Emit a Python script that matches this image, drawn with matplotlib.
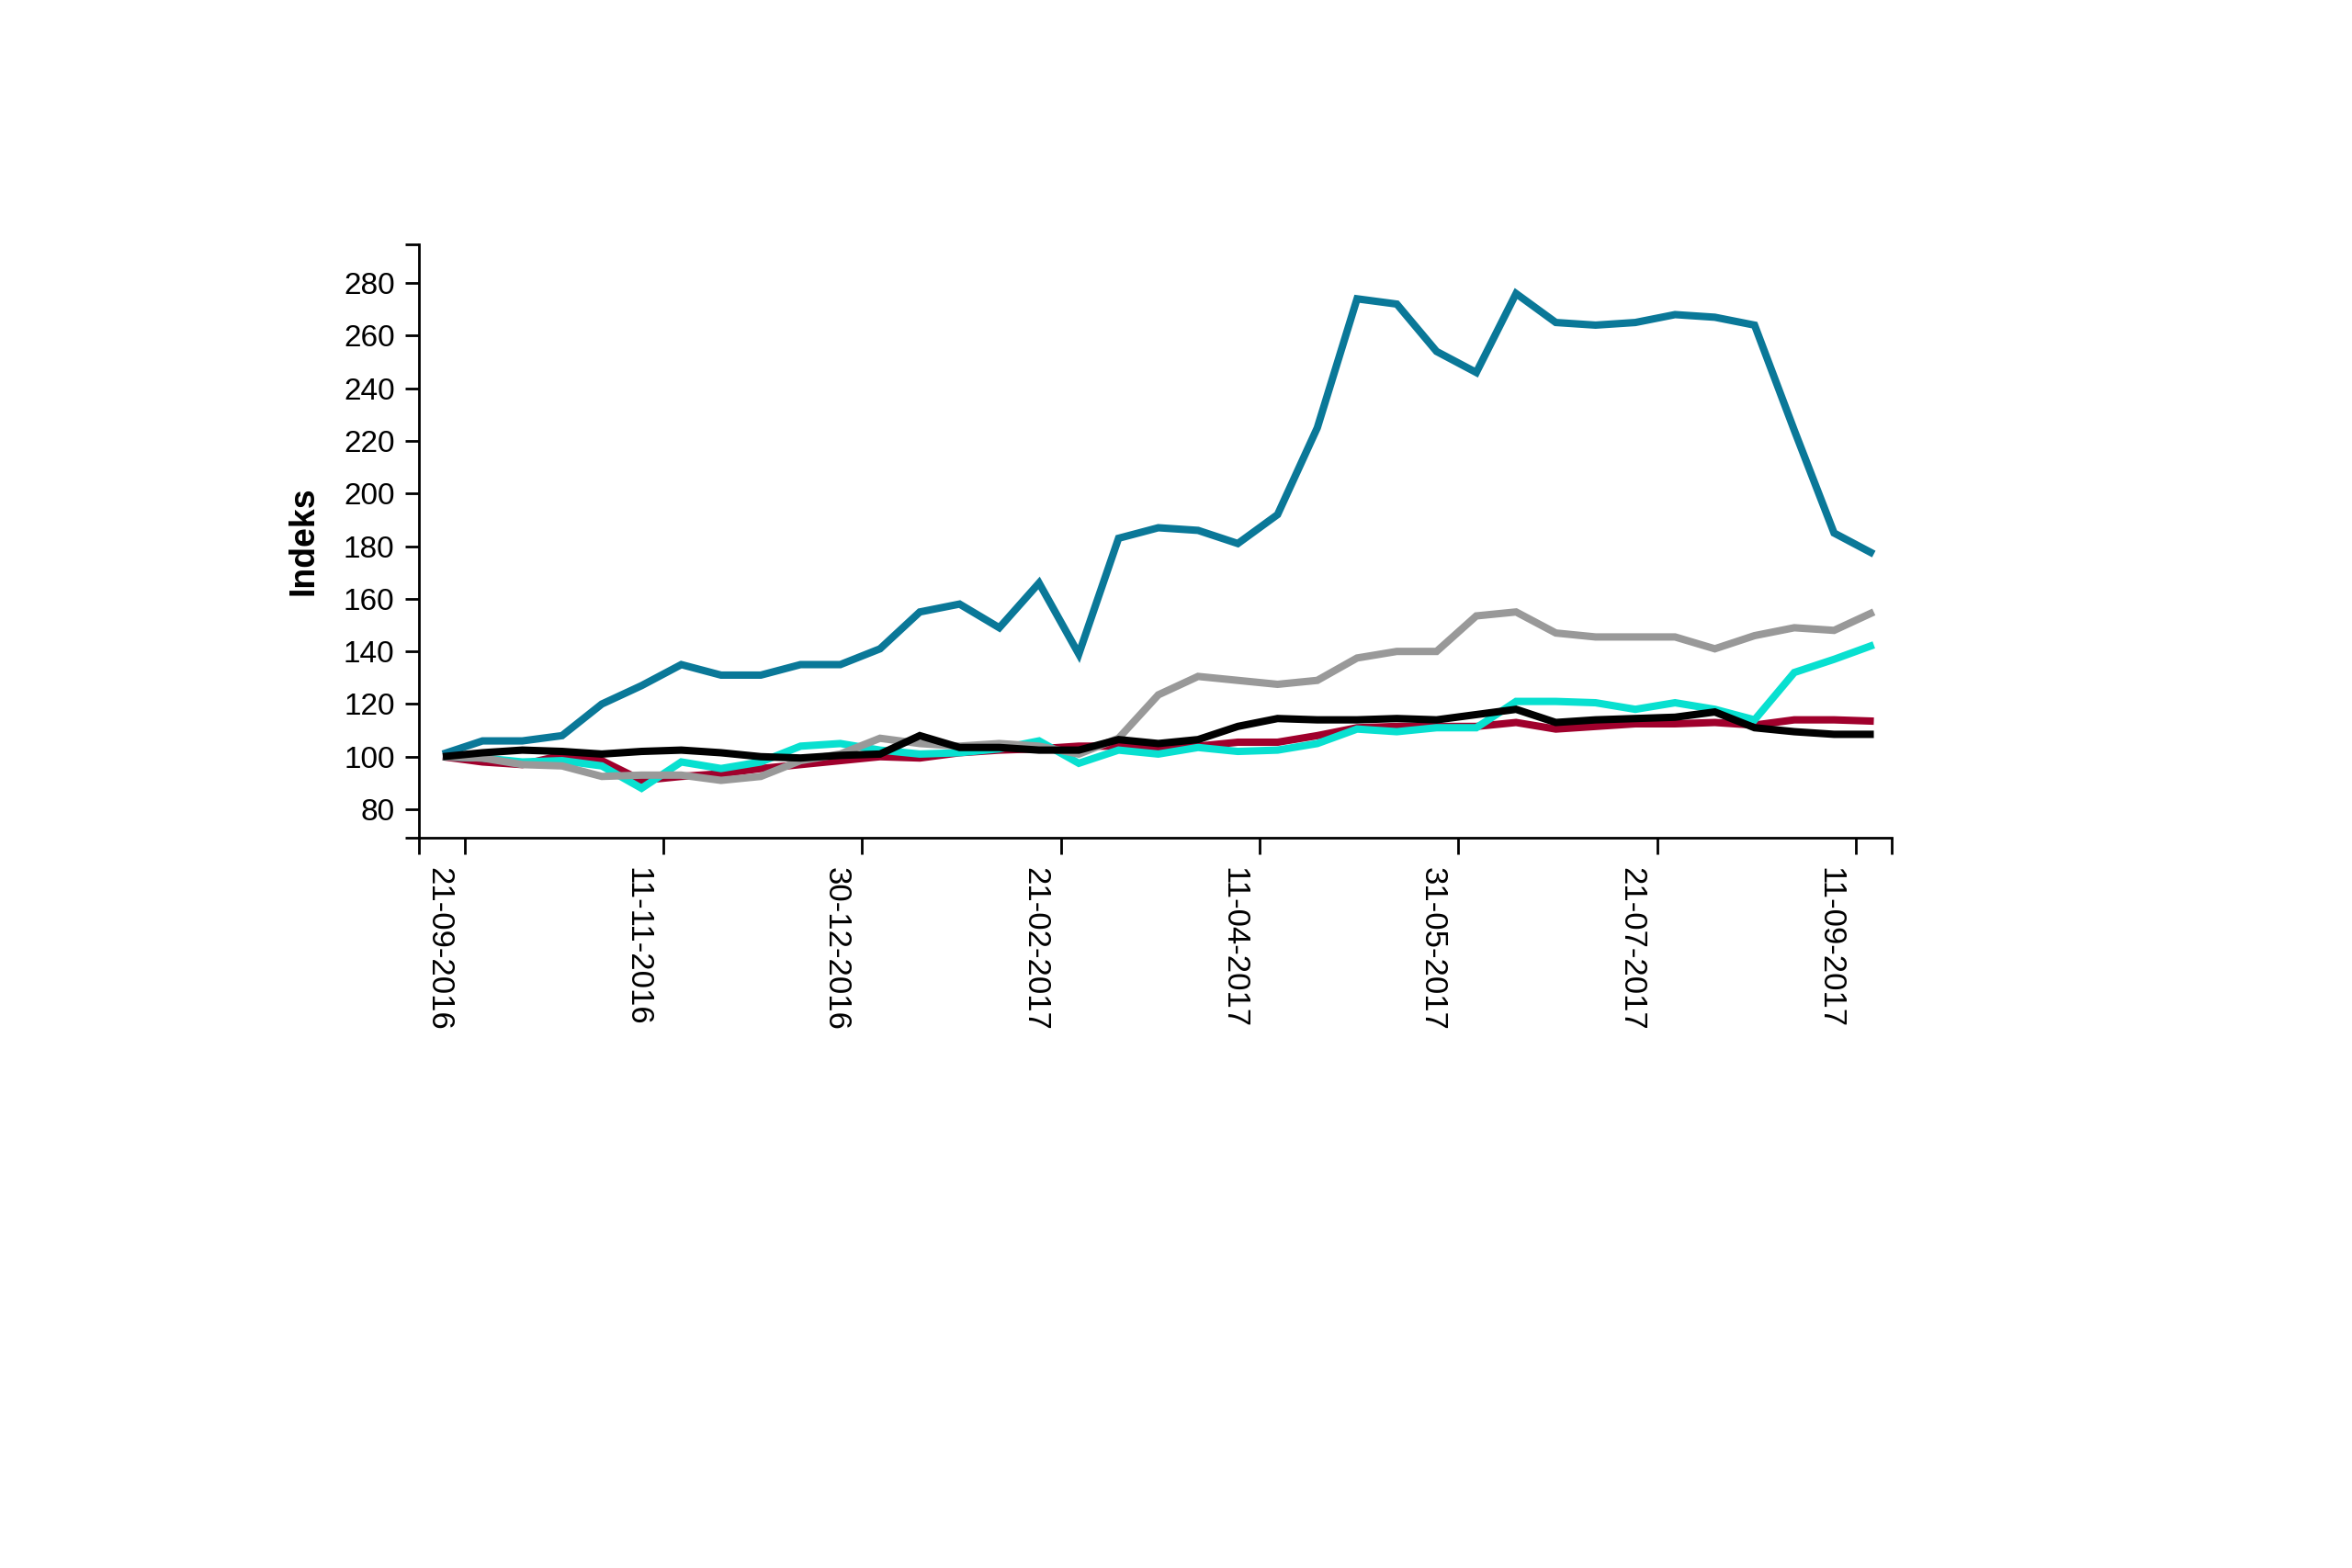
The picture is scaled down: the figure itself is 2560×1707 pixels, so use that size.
# Index chart (weekly observations), five series drawn as lines
import matplotlib
matplotlib.use("Agg")
from matplotlib import pyplot as plt

# Dates printed under the x axis (every 5th observation)
date_labels = [
    "21-09-2016",
    "11-11-2016",
    "30-12-2016",
    "21-02-2017",
    "11-04-2017",
    "31-05-2017",
    "21-07-2017",
    "11-09-2017",
]

# Series values (index, start = 100)
blue_vals = [101, 106, 106, 108, 120, 127, 135, 131, 131, 135, 135, 141, 155,
             158, 149, 166, 139, 183, 187, 186, 181, 192, 225, 274, 272, 254,
             246, 276, 265, 264, 265, 268, 267, 264, 224, 185, 177]
gray_vals = [100, 99.5, 97, 96.5, 92.5, 93, 93, 91, 92.5, 98.5, 101, 107, 105,
             104, 105, 104, 101, 107, 123.5, 130.5, 129, 127.5, 129, 137.5,
             140, 140, 153.5, 155, 147, 145.5, 145.5, 145.5, 141, 146, 149,
             148, 155]
cyan_vals = [100, 99.5, 98, 98.5, 96.5, 88, 98, 95.5, 98, 104, 105, 102.5,
             101, 101.5, 103, 106, 97.5, 102.5, 101, 103.5, 102, 102.5, 105,
             110.5, 109.5, 111, 111, 121, 121, 120.5, 118, 120.5, 118, 114,
             132, 137, 142.5]
red_vals = [100, 98, 97, 100.5, 98.5, 91, 92.5, 93.5, 95.5, 97, 98.5, 100,
            99.5, 101.5, 102.5, 103, 104, 104, 103, 104, 105.5, 105.5, 108,
            111, 111.5, 111.5, 111.5, 113, 110.5, 111.5, 112.5, 112.5, 113,
            112, 114, 114, 113.5]
black_vals = [100, 101.5, 102.5, 102, 101, 102, 102.5, 101.5, 100, 99.5, 100.5,
              101, 108, 103.5, 103.5, 102.5, 102.5, 106.5, 105, 106.5, 111.5,
              114.5, 114, 114, 114.5, 114, 116, 118, 113, 114, 114.5, 115, 117,
              111, 109.5, 108.5, 108.5]

x = list(range(len(blue_vals)))

# Create figure
fig = plt.figure(figsize=(25.6, 17.07), dpi=100)
ax = fig.add_axes([456 / 2560, 1 - 912 / 1707, 1603 / 2560, 646 / 1707])

# Draw lines (last one on top)
series = [
    (red_vals, "#a0002c"),
    (cyan_vals, "#08e0d0"),
    (gray_vals, "#999999"),
    (blue_vals, "#0a7898"),
    (black_vals, "#000000"),
]
for vals, col in series:
    ax.plot(x, vals, color=col, lw=5.8, solid_joinstyle="miter",
            solid_capstyle="butt")

# Axis limits
x_lo, x_hi = -0.6, 36.45
y_lo, y_hi = 69.2, 294.7
ax.set_xlim(x_lo, x_hi)
ax.set_ylim(y_lo, y_hi)

# Only left and bottom spines
for s in ["top", "right"]:
    ax.spines[s].set_visible(False)
for s in ["left", "bottom"]:
    ax.spines[s].set_linewidth(2)

# Y ticks
ax.set_yticks(range(80, 281, 20))
ax.set_yticks([y_lo, y_hi], minor=True)
ax.tick_params(axis="y", which="both", length=11, width=2, pad=8,
               labelsize=24, direction="out")

# X ticks: labels under the observations, tick marks between them
label_pos = [i - 0.1 for i in range(0, len(x), 5)]
ax.set_xticks(label_pos)
ax.set_xticklabels(date_labels, rotation=270, ha="center", va="top",
                   fontsize=25)
ax.set_xticks([i + 0.55 for i in range(0, len(x) - 1, 5)] + [x_lo, x_hi],
              minor=True)
ax.tick_params(axis="x", which="major", length=0, pad=23)
ax.tick_params(axis="x", which="minor", length=13, width=2, direction="out")

for lab in ax.get_xticklabels() + ax.get_yticklabels():
    lab.set_fontfamily("Liberation Sans")

# Y label
ax.text(-0.078, 0.5, "Indeks", transform=ax.transAxes, rotation=90,
        ha="center", va="center", fontsize=27, fontweight="bold",
        family="Liberation Sans")

# Save plot
plt.savefig("out.png", dpi=100)
